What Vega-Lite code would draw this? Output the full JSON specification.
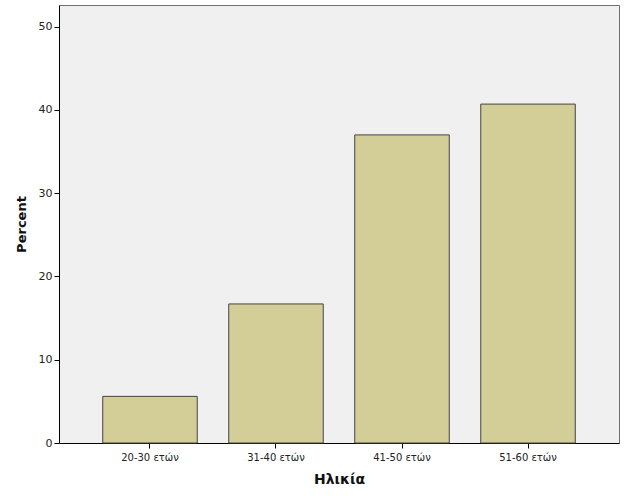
{
  "$schema": "https://vega.github.io/schema/vega-lite/v6.json",
  "autosize": {"type": "none"},
  "width": 560,
  "height": 438,
  "padding": {"left": 59, "top": 5, "right": 7, "bottom": 58},
  "background": "white",
  "config": {
    "view": {"fill": "#f0f0f0", "stroke": "#707070", "strokeWidth": 1},
    "axis": {"labelFont": "DejaVu Sans", "titleFont": "DejaVu Sans", "labelColor": "#222", "titleColor": "#111", "domainColor": "#000", "tickColor": "#000", "grid": false}
  },
  "data": {"values": [
    {"age": "20-30 ετών", "percent": 5.6},
    {"age": "31-40 ετών", "percent": 16.7},
    {"age": "41-50 ετών", "percent": 37.0},
    {"age": "51-60 ετών", "percent": 40.7}
  ]},
  "mark": {"type": "bar", "fill": "#d3ce97", "stroke": "#444", "strokeWidth": 1},
  "encoding": {
    "x": {
      "field": "age", "type": "nominal", "sort": null,
      "scale": {"paddingInner": 0.25, "paddingOuter": 0.347},
      "axis": {"title": "Ηλικία", "labelAngle": 0, "labelFontSize": 10, "titleFontSize": 14, "titleFontWeight": "bold", "tickSize": 5, "labelPadding": 4, "titlePadding": 10}
    },
    "y": {
      "field": "percent", "type": "quantitative",
      "scale": {"domain": [0, 52.6], "nice": false},
      "axis": {"title": "Percent", "values": [0, 10, 20, 30, 40, 50], "labelFontSize": 11, "titleFontSize": 13, "titleFontWeight": "bold", "tickSize": 5, "labelPadding": 2, "titlePadding": 10}
    }
  }
}
